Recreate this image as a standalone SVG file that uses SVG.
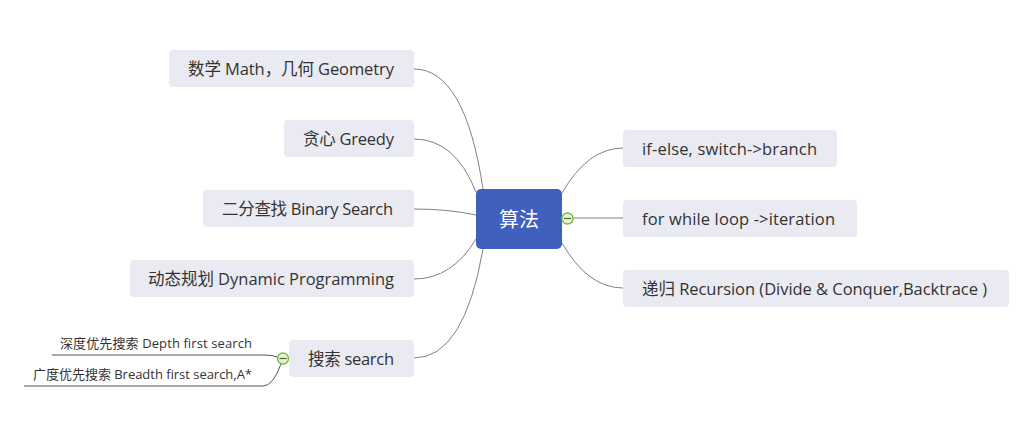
<svg xmlns="http://www.w3.org/2000/svg" width="1033" height="424" viewBox="0 0 1033 424">
<style>
.node rect{fill:#E9EAF2;}
.t{font-family:"Open Sans","Noto Sans CJK SC",sans-serif;font-size:16.5px;fill:#333;}
.s{font-family:"Open Sans","Noto Sans CJK SC",sans-serif;font-size:13px;fill:#333;}
.c{fill:none;stroke:#808080;stroke-width:1;}
.u{fill:none;stroke:#555;stroke-width:1;}
.col circle{fill:#E6F2DA;stroke:#76BE3C;stroke-width:1.4;}
.col line{stroke:#4A6A3A;stroke-width:1.2;}
</style>
<rect width="1033" height="424" fill="#fff"/>
<g id="connectors">
<path class="c" d="M483,189 Q465,69 414,69"/>
<path class="c" d="M476,192 Q455,139 414,139"/>
<path class="c" d="M476,215 Q448,209 414,209"/>
<path class="c" d="M476,239 Q452,279 414,279"/>
<path class="c" d="M483,249 Q464,358 414,358"/>
<path class="c" d="M562,193 Q588,148 623,148"/>
<path class="c" d="M573,218 L623,218"/>
<path class="c" d="M562,243 Q588,288 623,288"/>
<path class="u" d="M52,355 L264,355 Q273,355 277,357"/>
<path class="u" d="M24,386 L263,386 Q273,386 281,364"/>
</g>
<g id="n-center">
<rect x="476" y="189" width="86" height="60" rx="5" fill="#4160BE"/>
<text x="519" y="227" text-anchor="middle" font-family="'Open Sans','Noto Sans CJK SC',sans-serif" font-size="20" fill="#fff">算法</text>
</g>
<g id="n-math" class="node"><rect x="169" y="50" width="245" height="37" rx="4"/><text class="t" x="188" y="75" textLength="206" lengthAdjust="spacing">数学 Math，几何 Geometry</text></g>
<g id="n-greedy" class="node"><rect x="284" y="120" width="130" height="37" rx="4"/><text class="t" x="303" y="145" textLength="91" lengthAdjust="spacing">贪心 Greedy</text></g>
<g id="n-binary" class="node"><rect x="203" y="190" width="211" height="37" rx="4"/><text class="t" x="222" y="215" textLength="171" lengthAdjust="spacing">二分查找 Binary Search</text></g>
<g id="n-dp" class="node"><rect x="130" y="260" width="284" height="37" rx="4"/><text class="t" x="148" y="285" textLength="246" lengthAdjust="spacing">动态规划 Dynamic Programming</text></g>
<g id="n-search" class="node"><rect x="289" y="340" width="125" height="37" rx="4"/><text class="t" x="308" y="365" textLength="86" lengthAdjust="spacing">搜索 search</text></g>
<g id="n-ifelse" class="node"><rect x="623" y="130" width="214" height="37" rx="4"/><text class="t" x="642" y="155" textLength="175" lengthAdjust="spacing">if-else, switch-&gt;branch</text></g>
<g id="n-loop" class="node"><rect x="623" y="200" width="234" height="37" rx="4"/><text class="t" x="642" y="225" textLength="193" lengthAdjust="spacing">for while loop -&gt;iteration</text></g>
<g id="n-rec" class="node"><rect x="623" y="270" width="386" height="37" rx="4"/><text class="t" x="642" y="295" textLength="345" lengthAdjust="spacing">递归 Recursion (Divide &amp; Conquer,Backtrace )</text></g>
<g id="n-dfs"><text class="s" x="60" y="348" textLength="192" lengthAdjust="spacing">深度优先搜索 Depth first search</text></g>
<g id="n-bfs"><text class="s" x="33" y="379" textLength="219" lengthAdjust="spacing">广度优先搜索 Breadth first search,A*</text></g>
<g id="collapse" class="col">
<g><circle cx="567.5" cy="218.5" r="5.5"/><line x1="564" y1="218.5" x2="571" y2="218.5"/></g>
<g><circle cx="283" cy="358.5" r="5.5"/><line x1="279.5" y1="358.5" x2="286.5" y2="358.5"/></g>
</g>
</svg>
